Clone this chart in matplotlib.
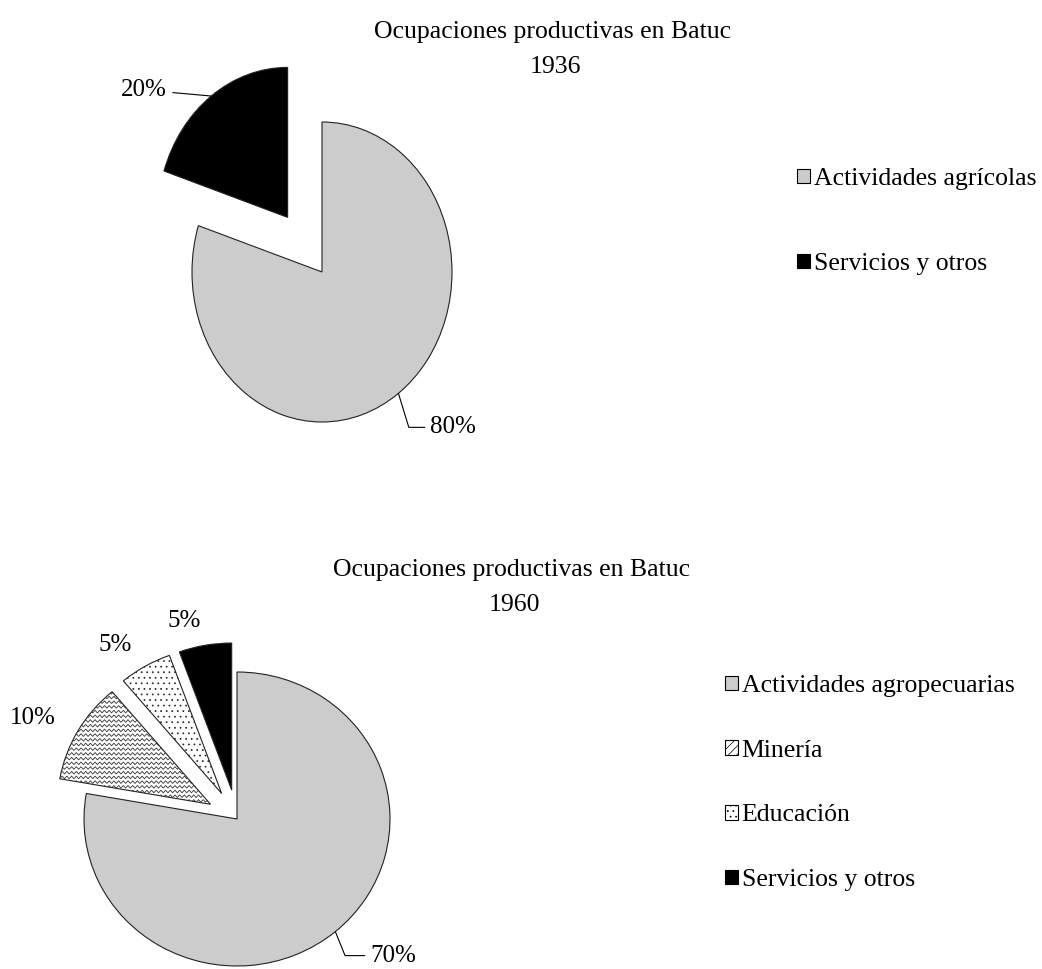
import numpy as np
import matplotlib.pyplot as plt
from matplotlib.patches import Rectangle
from matplotlib.collections import LineCollection

plt.rcParams['font.family'] = ['Liberation Serif', 'DejaVu Serif']
plt.rcParams['hatch.linewidth'] = 0.5

W, H = 1042, 969

# datos
titulo = "Ocupaciones productivas en Batuc"
anio_1 = "1936"
cats_1 = ["Actividades agrícolas", "Servicios y otros"]
vals_1 = [80, 20]
anio_2 = "1960"
cats_2 = ["Actividades agropecuarias", "Minería", "Educación", "Servicios y otros"]
vals_2 = [70, 10, 5, 5]

GRIS = '#cccccc'
BORDE = '#222222'

fig = plt.figure(figsize=(W / 100, H / 100), dpi=100)


def fx(x):
    return x / W


def fy(y):
    return 1 - y / H


def pie_axes(vals, colors, explode, cx, cy, rx, ry):
    # un eje del tamaño de la figura, escalado para que el pastel quede en (cx, cy) px
    ax = fig.add_axes([0, 0, 1, 1])
    wedges, _ = ax.pie(vals, colors=colors, explode=explode, startangle=90,
                       counterclock=False,
                       wedgeprops=dict(edgecolor=BORDE, linewidth=0.8))
    ax.set_aspect('auto')
    ax.set_xlim(-cx / rx, (W - cx) / rx)
    ax.set_ylim(-(H - cy) / ry, cy / ry)
    ax.axis('off')
    return ax, wedges


def arc_point(w, k=1.0):
    t = np.deg2rad((w.theta1 + w.theta2) / 2)
    return (w.center[0] + k * w.r * np.cos(t), w.center[1] + k * w.r * np.sin(t))


def zigzag(ax, w, rx, ry, step=4.7, amp=1.3, period=4.7):
    cx, cy = w.center
    r = w.r
    xs = np.arange(cx - r, cx + r, period / 2 / rx)
    offs = np.where(np.arange(len(xs)) % 2 == 0, amp, -amp) / ry
    segs = [np.column_stack([xs, y + offs]) for y in np.arange(cy - r, cy + r, step / ry)]
    lc = LineCollection(segs, colors='#333333', linewidths=0.6, zorder=w.get_zorder() + 0.1)
    ax.add_collection(lc)
    lc.set_clip_path(w)


def make_legend(ax, labels, colors, hatches, x, y, spacing):
    hs = [Rectangle((0, 0), 1, 1, facecolor=c, edgecolor='black', linewidth=0.8, hatch=h)
          for c, h in zip(colors, hatches)]
    ax.legend(hs, labels, loc='upper left', bbox_to_anchor=(fx(x), fy(y)),
              bbox_transform=fig.transFigure, frameon=False, borderpad=0,
              borderaxespad=0, handlelength=0.5, handleheight=0.5,
              handletextpad=0.15, labelspacing=spacing, fontsize=18.5)


line = dict(arrowstyle='-', color='black', lw=0.8, shrinkA=2, shrinkB=0)

# ---- 1936 ----
ax1, w1 = pie_axes(vals_1, [GRIS, 'black'], [0, 0.45], 322, 272, 130, 150)
fig.text(fx(553), fy(32), titulo, ha='center', va='center', fontsize=18.5)
fig.text(fx(555), fy(67), anio_1, ha='center', va='center', fontsize=18.5)

ax1.annotate(f"{vals_1[1]}%", xy=arc_point(w1[1]), xytext=(-44, 6),
             textcoords='offset pixels', ha='right', va='center', fontsize=18,
             arrowprops=line)
ax1.annotate(f"{vals_1[0]}%", xy=arc_point(w1[0]), xytext=(32, -34),
             textcoords='offset pixels', ha='left', va='center', fontsize=18,
             arrowprops=dict(line, connectionstyle='angle,angleA=0,angleB=107,rad=0'))

make_legend(ax1, cats_1, [GRIS, 'black'], [None, None], 797, 168, 2.45)

# ---- 1960 ----
cols_2 = [GRIS, 'white', 'white', 'black']
ax2, w2 = pie_axes(vals_2, cols_2, [0, 0.2, 0.2, 0.2], 237, 819, 153, 147)
w2[2].set_hatch('...')
zigzag(ax2, w2[1], 153, 147)

fig.text(fx(512), fy(570), titulo, ha='center', va='center', fontsize=18.5)
fig.text(fx(514), fy(605), anio_2, ha='center', va='center', fontsize=18.5)

for w, v in zip(w2[1:], vals_2[1:]):
    ax2.text(*arc_point(w, 1.17), f"{v}%", ha='right', va='center', fontsize=18)

ax2.annotate(f"{vals_2[0]}%", xy=arc_point(w2[0]), xytext=(35, -24),
             textcoords='offset pixels', ha='left', va='center', fontsize=18,
             arrowprops=dict(line, connectionstyle='angle,angleA=0,angleB=112,rad=0'))

make_legend(ax2, cats_2, cols_2, [None, '////', '...', None], 725, 675, 1.66)

fig.savefig('out.png', dpi=100)
